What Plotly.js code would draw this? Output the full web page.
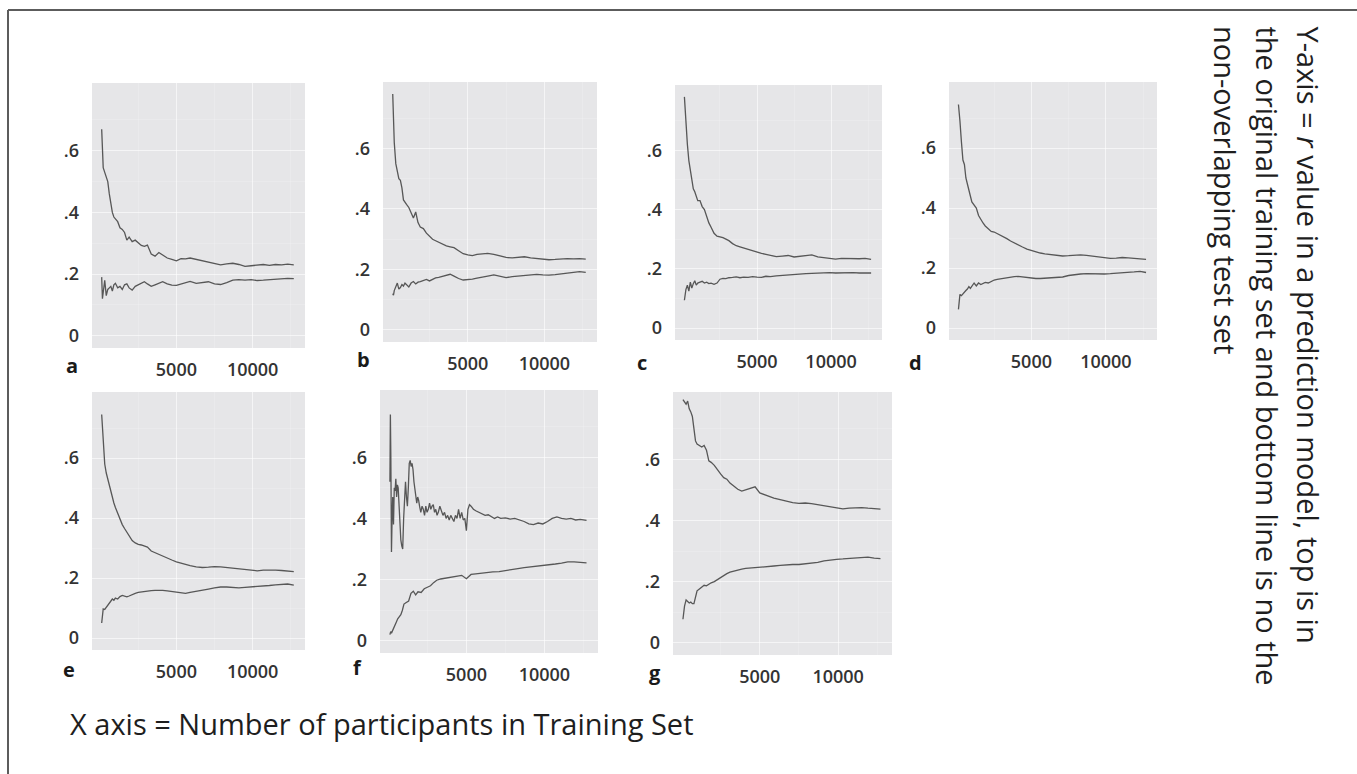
<!DOCTYPE html>
<html>
<head>
<meta charset="utf-8">
<script src="https://cdn.plot.ly/plotly-3.0.1.min.js"></script>
<style>
  html, body { margin: 0; padding: 0; background: #ffffff; }
  #chart { width: 1357px; height: 774px; }
</style>
</head>
<body>
<div id="chart"></div>
<script>
// Number of participants in the training set (shared x values)
const trainingSize = [100, 150, 200, 300, 400, 500, 600, 700, 800, 900, 1000, 1150, 1300, 1450, 1600, 1750, 1900,
  2100, 2300, 2500, 2700, 2900, 3100, 3350, 3600, 3850, 4100, 4400, 4700, 5000, 5300, 5600, 5900,
  6300, 6700, 7100, 7500, 7900, 8300, 8700, 9100, 9500, 9900, 10300, 10700, 11100, 11500, 11900, 12300, 12700];

// r in the original training set (top line) and in the non-overlapping test set (bottom line)
const trainA = [.67,.60,.545,.53,.51,.50,.46,.43,.40,.385,.38,.37,.35,.345,.335,.31,.32,.305,.31,.30,.293,.29,.294,.265,.258,.27,.262,.252,.248,.243,.25,.249,.252,.248,.244,.238,.234,.23,.233,.235,.231,.225,.227,.229,.231,.228,.231,.23,.232,.23];
const testA  = [.19,.12,.14,.18,.13,.15,.155,.16,.145,.165,.17,.155,.16,.15,.165,.168,.155,.148,.16,.165,.172,.175,.168,.16,.165,.17,.175,.168,.164,.163,.168,.172,.176,.17,.172,.175,.168,.166,.172,.18,.182,.18,.182,.179,.18,.182,.184,.185,.186,.185];

const trainB = [.78,.70,.62,.55,.53,.50,.495,.47,.43,.42,.415,.405,.39,.37,.39,.355,.34,.335,.32,.31,.30,.295,.29,.285,.278,.275,.272,.262,.252,.248,.246,.25,.251,.253,.25,.245,.24,.238,.24,.242,.238,.236,.234,.232,.233,.235,.236,.235,.236,.234];
const testB  = [.12,.115,.13,.145,.155,.135,.14,.15,.145,.155,.15,.142,.155,.16,.152,.158,.16,.163,.167,.162,.168,.172,.174,.178,.182,.184,.178,.17,.165,.166,.168,.171,.173,.178,.182,.178,.173,.176,.178,.18,.183,.184,.182,.181,.183,.186,.189,.192,.193,.19];

const trainC = [.78,.73,.69,.62,.565,.53,.50,.47,.46,.44,.43,.43,.41,.40,.375,.355,.34,.32,.31,.308,.305,.30,.295,.285,.278,.274,.27,.266,.26,.256,.252,.249,.245,.241,.243,.245,.24,.242,.244,.247,.24,.237,.234,.233,.235,.234,.235,.234,.235,.232];
const testC  = [.094,.115,.13,.145,.125,.155,.135,.15,.16,.145,.152,.155,.158,.152,.155,.15,.152,.148,.152,.165,.168,.167,.17,.171,.173,.17,.172,.171,.174,.172,.171,.175,.174,.176,.178,.18,.181,.183,.184,.185,.186,.185,.187,.186,.187,.186,.187,.186,.187,.186];

const trainD = [.745,.72,.69,.62,.56,.545,.50,.48,.455,.44,.42,.41,.40,.375,.36,.35,.34,.33,.322,.32,.315,.312,.305,.298,.29,.283,.277,.27,.263,.258,.254,.25,.247,.244,.242,.24,.241,.243,.244,.242,.24,.237,.234,.232,.233,.235,.234,.232,.231,.229];
const testD  = [.062,.09,.112,.108,.115,.12,.125,.13,.138,.132,.14,.15,.14,.15,.145,.148,.152,.15,.156,.16,.162,.164,.166,.168,.17,.171,.172,.17,.167,.166,.165,.165,.166,.165,.168,.17,.175,.178,.18,.181,.18,.179,.18,.181,.182,.183,.184,.187,.189,.185];

const trainE = [.745,.70,.66,.58,.55,.53,.505,.48,.465,.45,.435,.415,.395,.378,.365,.352,.34,.325,.317,.312,.31,.307,.303,.29,.284,.279,.274,.267,.26,.254,.249,.245,.241,.237,.235,.236,.238,.237,.235,.233,.23,.228,.225,.224,.226,.227,.226,.225,.224,.221];
const testE  = [.05,.08,.097,.095,.102,.11,.118,.125,.13,.126,.133,.13,.138,.142,.14,.137,.14,.145,.149,.152,.154,.156,.157,.158,.159,.16,.159,.157,.155,.153,.151,.149,.152,.155,.159,.163,.167,.17,.17,.168,.167,.169,.17,.172,.173,.175,.177,.178,.18,.176];

// panel f: the training-set line is very unsteady early on, so it has its own, denser x values
const trainingSizeF = [100, 130, 160, 200, 240, 280, 330, 380, 430, 480, 530, 580, 630, 680, 740, 800, 860, 920, 980,
  1040, 1100, 1160, 1220, 1280, 1340, 1400, 1460, 1520, 1580, 1640, 1700, 1760, 1820, 1880, 1940, 2000,
  2080, 2160, 2240, 2320, 2400, 2480, 2560, 2640, 2720, 2800, 2880, 2960, 3040, 3120, 3200, 3300, 3400,
  3500, 3600, 3700, 3800, 3900, 4000, 4100, 4200, 4300, 4400, 4500, 4600, 4700, 4800, 4900, 5000, 5100,
  5200, 5300, 5450, 5600, 5800, 6000, 6200, 6400, 6600, 6800, 7000, 7200, 7500, 7800, 8100, 8400, 8700,
  9000, 9300, 9600, 9900, 10200, 10500, 10800, 11100, 11400, 11700, 12000, 12300, 12700];
const trainF = [.52,.74,.60,.29,.40,.47,.38,.50,.49,.53,.47,.51,.50,.44,.36,.33,.31,.30,.40,
  .50,.52,.47,.44,.50,.58,.59,.57,.58,.56,.52,.49,.46,.45,.47,.46,.44,
  .42,.44,.43,.41,.44,.42,.43,.45,.43,.44,.445,.42,.43,.41,.42,.44,.425,
  .41,.42,.40,.41,.395,.41,.40,.39,.41,.40,.43,.40,.42,.395,.40,.36,.43,
  .445,.44,.43,.425,.42,.415,.41,.412,.405,.40,.405,.40,.402,.398,.40,.395,.39,
  .382,.38,.385,.382,.39,.40,.405,.40,.398,.40,.395,.397,.394];
const testF  = [.02,.03,.025,.035,.05,.06,.072,.077,.085,.10,.12,.125,.13,.155,.162,.15,.16,.158,.17,.175,.18,.19,.198,.202,.204,.207,.21,.212,.214,.203,.217,.219,.221,.222,.225,.226,.23,.233,.236,.239,.241,.243,.245,.248,.251,.254,.258,.258,.256,.255];

const trainG = [.795,.79,.785,.78,.79,.765,.755,.74,.70,.66,.65,.645,.64,.645,.63,.595,.59,.58,.565,.552,.54,.535,.522,.512,.502,.496,.50,.505,.51,.49,.484,.478,.473,.468,.462,.458,.456,.457,.455,.452,.448,.444,.441,.438,.44,.442,.442,.44,.438,.437];
const testG  = [.077,.10,.12,.14,.135,.13,.133,.128,.128,.15,.17,.176,.183,.188,.186,.192,.196,.20,.207,.214,.221,.226,.231,.235,.238,.241,.243,.244,.246,.248,.249,.25,.251,.253,.255,.256,.256,.258,.26,.263,.268,.271,.273,.274,.276,.277,.279,.28,.277,.275];

const panelLetters = ['a', 'b', 'c', 'd', 'e', 'f', 'g'];
const trainSeries = [trainA, trainB, trainC, trainD, trainE, trainF, trainG];
const testSeries  = [testA, testB, testC, testD, testE, testF, testG];
const trainX = [trainingSize, trainingSize, trainingSize, trainingSize, trainingSize, trainingSizeF, trainingSize];

const xTickValues = [5000, 10000];
const xTickLabels = ['5000', '10000'];
const yTickValues = [0, 0.2, 0.4, 0.6];
const yTickLabels = ['0', '.2', '.4', '.6'];

// ---- page geometry (pixels) ----
const W = 1357, H = 774;
// plot-area boxes: [left, top, right, bottom]
const panelBoxes = [
  [92, 83, 305, 348], [383, 82, 597, 342], [675, 85, 882, 340], [949, 82, 1157, 340],
  [92, 392, 305, 650], [380, 390, 598, 653], [673, 392, 892, 655]
];
// letter label centres
const letterPos = [[72, 365], [363, 360], [642, 362], [915, 362], [69, 669], [357, 667], [655, 672]];

const px = v => v / W;
const py = v => 1 - v / H;

const lineColor = '#575757';
const textFamily = 'Open Sans, Noto Sans, sans-serif';
const tickFont = { family: textFamily, size: 18, color: '#333333', weight: 600 };

const traces = [];
const layout = {
  width: W, height: H,
  margin: { l: 0, r: 0, t: 0, b: 0 },
  paper_bgcolor: '#ffffff',
  plot_bgcolor: '#e6e6e8',
  showlegend: false,
  annotations: [],
  shapes: [
    { type: 'line', xref: 'paper', yref: 'paper', x0: px(8), x1: px(8), y0: 0, y1: py(10),
      line: { color: '#5c5c5c', width: 2 } },
    { type: 'line', xref: 'paper', yref: 'paper', x0: px(8), x1: 1, y0: py(10), y1: py(10),
      line: { color: '#5c5c5c', width: 2 } }
  ]
};

panelLetters.forEach((letter, i) => {
  const sfx = i === 0 ? '' : String(i + 1);
  const [l, t, r, b] = panelBoxes[i];
  [[trainX[i], trainSeries[i]], [trainingSize, testSeries[i]]].forEach(([xs, ys]) => {
    traces.push({
      type: 'scatter', mode: 'lines',
      x: xs, y: ys,
      xaxis: 'x' + sfx, yaxis: 'y' + sfx,
      line: { color: lineColor, width: 1.3 },
      hoverinfo: 'skip'
    });
  });
  layout['xaxis' + sfx] = {
    domain: [px(l), px(r)], anchor: 'y' + sfx,
    range: [-535, 13435], fixedrange: true,
    tickvals: xTickValues, ticktext: xTickLabels,
    ticks: '', ticklabelstandoff: 9,
    tickfont: tickFont,
    showgrid: true, gridcolor: 'rgba(255,255,255,0.6)', gridwidth: 1,
    minor: { tickvals: [2500, 7500, 12500], showgrid: true, gridcolor: 'rgba(255,255,255,0.3)', gridwidth: 0.6 },
    zeroline: false, showline: false
  };
  layout['yaxis' + sfx] = {
    domain: [py(b), py(t)], anchor: 'x' + sfx,
    range: [-0.04, 0.82], fixedrange: true,
    tickvals: yTickValues, ticktext: yTickLabels,
    ticks: '', ticklabelstandoff: 12,
    tickfont: tickFont,
    showgrid: true, gridcolor: 'rgba(255,255,255,0.6)', gridwidth: 1,
    minor: { tickvals: [0.1, 0.3, 0.5, 0.7], showgrid: true, gridcolor: 'rgba(255,255,255,0.3)', gridwidth: 0.6 },
    zeroline: false, showline: false
  };
  layout.annotations.push({
    xref: 'paper', yref: 'paper', x: px(letterPos[i][0]), y: py(letterPos[i][1]),
    xanchor: 'center', yanchor: 'middle', showarrow: false,
    text: letter,
    font: { family: textFamily, size: 20, color: '#1a1a1a', weight: 700 }
  });
});

// axis descriptions
const sideLines = [
  'Y-axis = <i>r</i> value in a prediction model, top is in',
  'the original training set and bottom line is no the',
  'non-overlapping test set'
];
const sideX = [1308, 1267, 1226];
sideLines.forEach((txt, k) => {
  layout.annotations.push({
    xref: 'paper', yref: 'paper', x: px(sideX[k]), y: py(24),
    xanchor: 'center', yanchor: 'top', showarrow: false, textangle: 90,
    text: txt, align: 'left',
    font: { family: textFamily, size: 29, color: '#1e1e1e' }
  });
});
layout.annotations.push({
  xref: 'paper', yref: 'paper', x: px(68), y: py(723),
  xanchor: 'left', yanchor: 'middle', showarrow: false,
  text: 'X axis = Number of participants in Training Set',
  font: { family: textFamily, size: 29, color: '#1e1e1e' }
});

Plotly.newPlot('chart', traces, layout, { staticPlot: true, displayModeBar: false });
</script>
</body>
</html>
